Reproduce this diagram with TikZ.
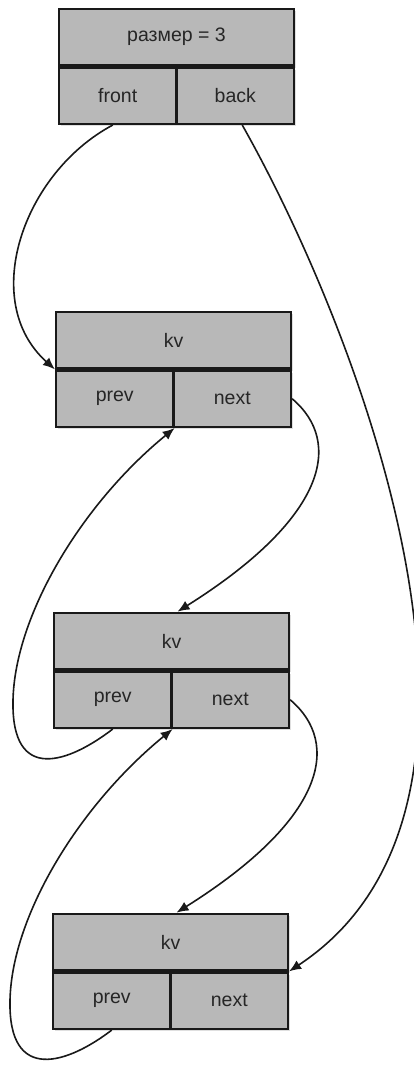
\documentclass[tikz,border=0pt]{standalone}
\usepackage{fontspec}
\setmainfont{Liberation Sans}
\usetikzlibrary{arrows.meta}
\usetikzlibrary{shadows}

\tikzset{
    cell/.style={draw=black!90, line width=2.2pt, fill=black!28, text=black!85,
        minimum height=56.5pt, inner sep=0pt, font=\fontsize{19.5}{23}\selectfont,
        drop shadow={shadow xshift=2pt, shadow yshift=-2.5pt, opacity=0.25}},
    wide/.style={cell, minimum width=235pt},
    half/.style={cell, minimum width=117.5pt},
    link/.style={-{Latex[length=12pt,width=10pt]}, line width=1.6pt, black!90}
}

\begin{document}
\begin{tikzpicture}[x=1pt, y=-1pt]
                \useasboundingbox (0,0) rectangle (414,1067);
                % list header
                \node[wide] (size) at (176.5,37) {размер = 3};
                \node[half, anchor=north west] (front) at (size.south west) {front};
                \node[half, anchor=north east] (back) at (size.south east) {back};
                % elements
                \node[wide] (n1kv) at (173.5,340) {kv};
                \node[half, anchor=north west] (n1prev) at (n1kv.south west) {prev};
                \node[half, anchor=north east] (n1next) at (n1kv.south east) {next};
                \node[wide] (n2kv) at (171.5,641) {kv};
                \node[half, anchor=north west] (n2prev) at (n2kv.south west) {prev};
                \node[half, anchor=north east] (n2next) at (n2kv.south east) {next};
                \node[wide] (n3kv) at (170.5,942) {kv};
                \node[half, anchor=north west] (n3prev) at (n3kv.south west) {prev};
                \node[half, anchor=north east] (n3next) at (n3kv.south east) {next};
                % front and back
                \draw[link] ([xshift=-5pt]front.south) .. controls +(-90,48) and +(-76,-68) .. (n1kv.south west);
                \draw[link] ([xshift=7pt]back.south) .. controls +(112,198) and +(256,-169) .. (n3kv.south east);
                % next
                \draw[link] (n1next.east) .. controls +(52,44) and +(148,-93) .. ([xshift=6pt]n2kv.north);
                \draw[link] (n2next.east) .. controls +(52,44) and +(148,-93) .. ([xshift=6pt]n3kv.north);
                % prev
                \draw[link] (n2prev.south) .. controls +(-43,33) and +(-2,85) .. (13,700) .. controls +(2,-85) and +(-93,76) .. (n1prev.south east);
                \draw[link] (n3prev.south) .. controls +(-43,33) and +(-2,85) .. (10,1000) .. controls +(2,-85) and +(-93,76) .. (n2prev.south east);
            \end{tikzpicture}
\end{document}
